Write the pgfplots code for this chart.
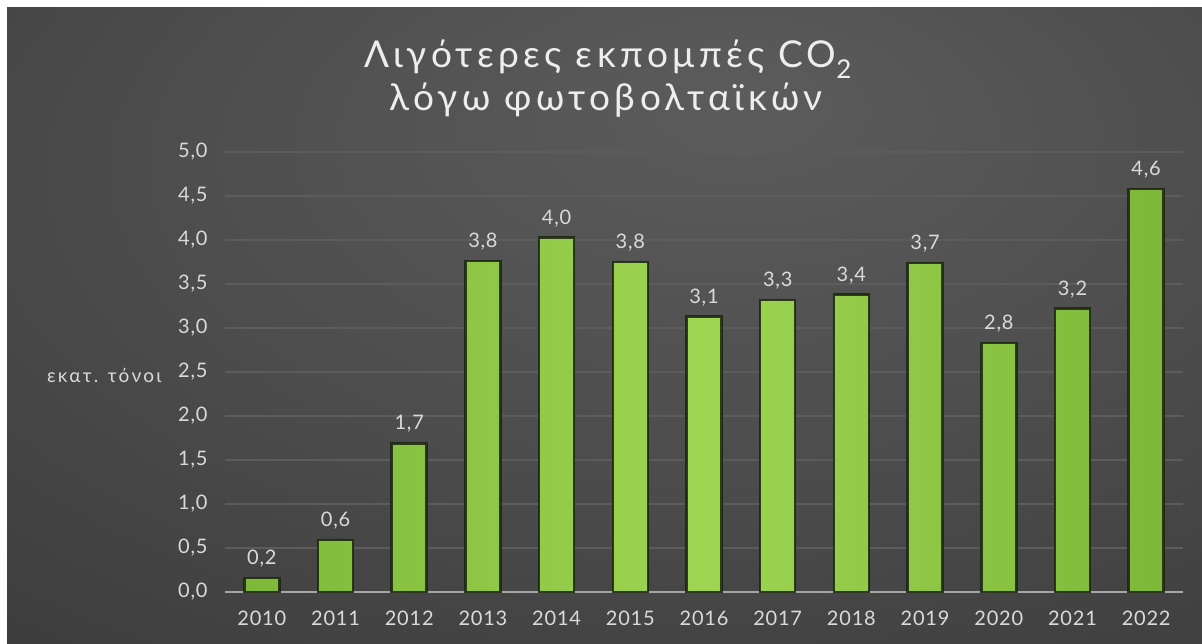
\documentclass[border=0pt]{standalone}
\usepackage{fontspec}
\setmainfont{Lato}
\usepackage{pgfplots}
\pgfplotsset{compat=1.18}

\definecolor{bgA}{HTML}{5C5C5C}
\definecolor{bgB}{HTML}{3C3C3C}
\definecolor{bgC}{HTML}{1F1F1F}
\definecolor{txt}{HTML}{DADADA}
\definecolor{gridc}{HTML}{5C5C5C}
\definecolor{axisc}{HTML}{A6A6A6}
\definecolor{barA}{HTML}{7DB838}
\definecolor{barB}{HTML}{9ED552}
\definecolor{shadowc}{HTML}{1A2410}

\pgfdeclareradialshading{bgshade}{\pgfpoint{6bp}{18bp}}{%
  color(0bp)=(bgA); color(22bp)=(bgA!55!bgB); color(45bp)=(bgB);
  color(72bp)=(bgC); color(80bp)=(bgC)}

\tikzset{
  commafmt/.style={
    /pgf/number format/fixed, /pgf/number format/fixed zerofill,
    /pgf/number format/precision=1, /pgf/number format/use comma},
  lbl/.style={font=\fontsize{20}{20}\selectfont\addfontfeature{LetterSpace=4}, color=txt},
  ttl/.style={font=\fontsize{37}{37}\selectfont\addfontfeature{LetterSpace=12}, anchor=base,
    color=white!93!black},
}

% reduction in tonnes (millions)
\pgfplotstableread{
x  val
0  0.16
1  0.59
2  1.69
3  3.76
4  4.03
5  3.75
6  3.13
7  3.32
8  3.38
9  3.74
10 2.83
11 3.22
12 4.58
}\co

\begin{document}
\begin{tikzpicture}[x=1pt,y=1pt]
  % page and background
  \fill[white] (0,0) rectangle (1202,644);
  \shade[shading=bgshade] (7,0) rectangle (1202,636);

  \begin{axis}[
    at={(225pt,52pt)}, anchor=south west,
    scale only axis, width=958pt, height=440pt,
    ybar, bar width=35pt,
    xmin=-0.5, xmax=12.5, ymin=0, ymax=5,
    xtick={0,...,12},
    xticklabels={2010,2011,2012,2013,2014,2015,2016,2017,2018,2019,2020,2021,2022},
    ytick={0,0.5,...,5},
    axis x line*=bottom,
    x axis line style={draw=axisc, line width=2pt, -},
    y axis line style={draw=none},
    axis y line*=left,
    major tick length=0pt,
    ymajorgrids,
    grid style={draw=gridc, line width=1.8pt},
    tick label style={lbl},
    xticklabel style={yshift=-15pt},
    yticklabel style={xshift=-14pt, commafmt},
    /pgf/number format/assume math mode=true,
    nodes near coords,
    every node near coord/.append style={lbl, yshift=6pt, commafmt},
    clip=false,
  ]
    \addplot[draw=shadowc, draw opacity=0.85, line width=2.5pt,
             left color=barA, right color=barA, middle color=barB]
      table[x=x, y=val] {\co};
  \end{axis}

  \node[anchor=east, lbl, font=\fontsize{19}{19}\selectfont\addfontfeature{LetterSpace=12}]
    at (165,269) {εκατ. τόνοι};

  % title
  \node[ttl] at (608,576) {Λιγότερες εκπομπές CO\textsubscript{2}};
  \node[ttl] at (606,533) {λόγω φωτοβολταϊκών};
\end{tikzpicture}
\end{document}
